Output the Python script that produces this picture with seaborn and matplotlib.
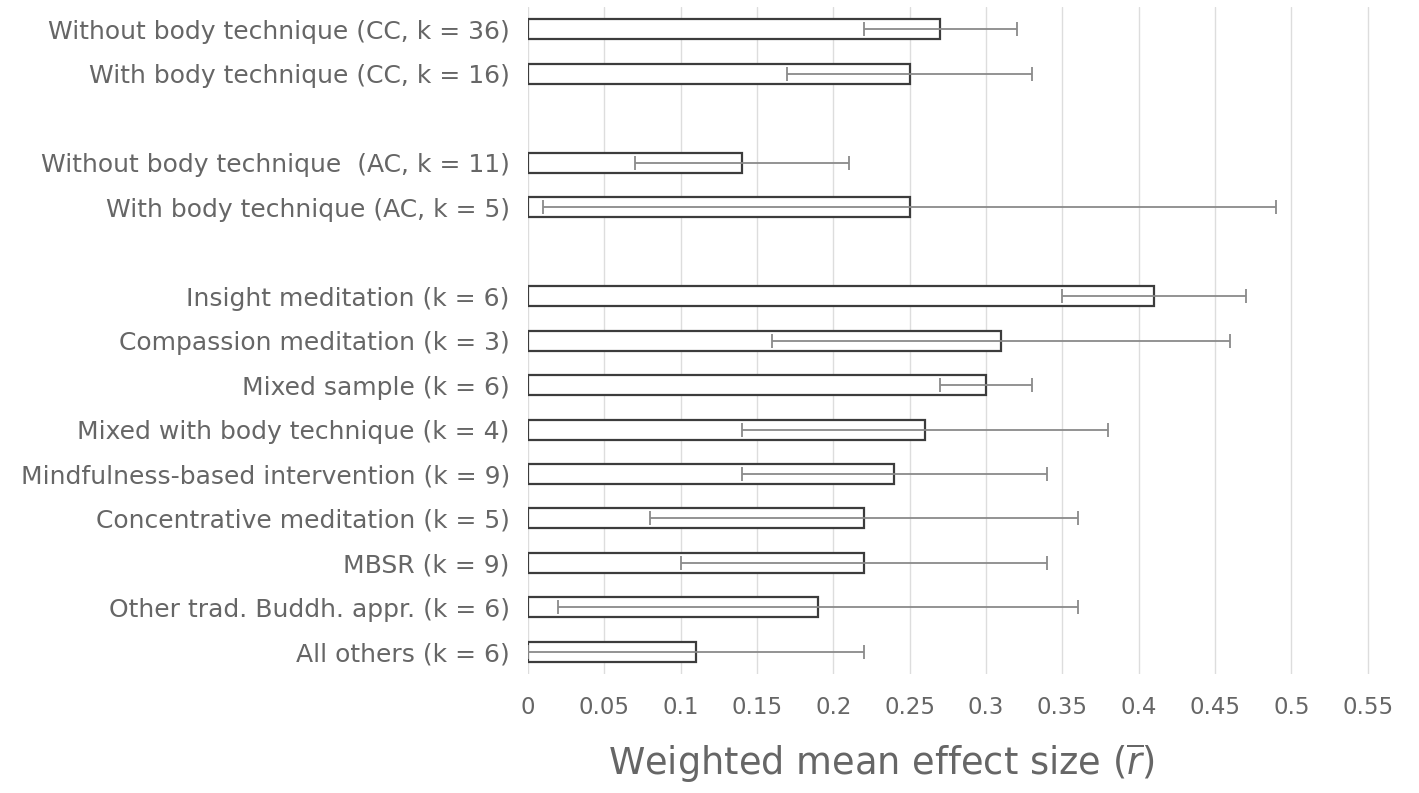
import numpy as np
import pandas as pd
import matplotlib
matplotlib.use("Agg")
import matplotlib.pyplot as plt
import seaborn as sns

# data
labels = [
    "Without body technique (CC, k = 36)",
    "With body technique (CC, k = 16)",
    "Without body technique  (AC, k = 11)",
    "With body technique (AC, k = 5)",
    "Insight meditation (k = 6)",
    "Compassion meditation (k = 3)",
    "Mixed sample (k = 6)",
    "Mixed with body technique (k = 4)",
    "Mindfulness-based intervention (k = 9)",
    "Concentrative meditation (k = 5)",
    "MBSR (k = 9)",
    "Other trad. Buddh. appr. (k = 6)",
    "All others (k = 6)",
]
effect = [0.27, 0.25, 0.14, 0.25, 0.41, 0.31, 0.30, 0.26, 0.24, 0.22, 0.22, 0.19, 0.11]
ci_half = [0.05, 0.08, 0.07, 0.24, 0.06, 0.15, 0.03, 0.12, 0.10, 0.14, 0.12, 0.17, 0.11]

# empty slots between the groups
order = labels[:2] + [" "] + labels[2:4] + ["  "] + labels[4:]
xticks = [0, 0.05, 0.1, 0.15, 0.2, 0.25, 0.3, 0.35, 0.4, 0.45, 0.5, 0.55]

df = pd.DataFrame({"label": labels, "r": effect, "ci": ci_half})

sns.set_style("white")
plt.rcParams["font.family"] = ["DejaVu Sans"]

fig, ax = plt.subplots(figsize=(14.19, 7.93), dpi=100)
fig.subplots_adjust(left=0.372, right=0.994, top=0.991, bottom=0.15)

sns.barplot(data=df, x="r", y="label", order=order, orient="h",
            color="white", edgecolor="#3c3c3c", linewidth=1.6,
            width=0.45, errorbar=None, ax=ax)

pos = [order.index(l) for l in labels]
ax.errorbar(df["r"], pos, xerr=df["ci"], fmt="none", ecolor="#8a8a8a",
            elinewidth=1.3, capsize=5, capthick=1.3, zorder=3)

ax.set_xlim(0, 0.578)
ax.set_ylim(len(order) - 0.5, -0.5)
ax.set_xticks(xticks)
ax.set_xticklabels([f"{t:g}" for t in xticks])
ax.grid(axis="x", color="#dddddd", linewidth=1)
ax.set_axisbelow(True)
for s in ax.spines.values():
    s.set_visible(False)
ax.tick_params(axis="y", length=0, labelsize=18, labelcolor="#666666", pad=13)
ax.tick_params(axis="x", length=0, labelsize=16.5, labelcolor="#666666", pad=16)
ax.set_ylabel("")
ax.set_xlabel(r"Weighted mean effect size ($\overline{r}$)", fontsize=26.5,
              color="#666666", labelpad=16, x=0.40)

plt.savefig("out.png", dpi=100)
